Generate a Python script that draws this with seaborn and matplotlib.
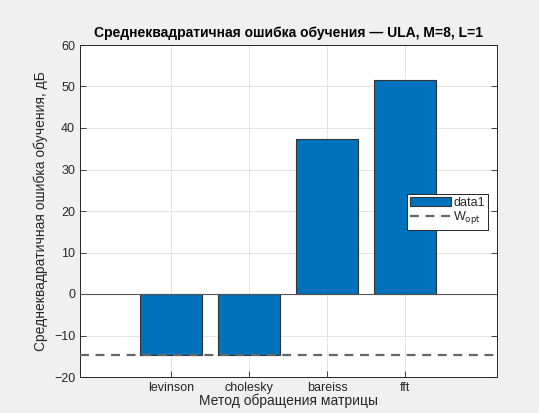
import matplotlib
matplotlib.use("Agg")
import matplotlib.pyplot as plt
import seaborn as sns
import pandas as pd

methods = ["levinson", "cholesky", "bareiss", "fft"]
mse_db = [-14.6, -14.6, 37.4, 51.5]
w_opt_db = -14.6

sns.set_style("whitegrid")
plt.rcParams["font.family"] = ["Liberation Sans", "DejaVu Sans"]

fig = plt.figure(figsize=(5.39, 4.13), dpi=100, facecolor="#f0f0f0")
ax = fig.add_axes([80 / 539, 1 - 377 / 413, 417 / 539, 332 / 413])
ax.set_facecolor("white")

df = pd.DataFrame({"method": methods, "mse": mse_db})
sns.barplot(data=df, x="method", y="mse", ax=ax, color="#0072BD", saturation=1,
            width=0.8, edgecolor="#333333", linewidth=0.8, label="data1", zorder=2)

ax.axhline(0, color="#555555", linewidth=0.8, zorder=3)
wline = ax.axhline(w_opt_db, color="#666666", linestyle=(0, (4, 3)), linewidth=1.6,
                   label=r"W$_{\mathrm{opt}}$", zorder=4)

ax.set_xlim(-1.17, 4.18)
ax.set_ylim(-20, 60)
ax.set_yticks(range(-20, 61, 10))
ax.grid(True, color="#e3e3e3", linewidth=0.7, zorder=0)
ax.set_axisbelow(True)
ax.tick_params(direction="in", length=4, colors="#262626", labelsize=9,
               top=False, right=True, left=True, bottom=True, width=0.6)
for s in ax.spines.values():
    s.set_color("#262626")
    s.set_linewidth(0.7)

ax.set_title("Среднеквадратичная ошибка обучения — ULA, M=8, L=1",
             fontsize=10, fontweight="bold", pad=6, color="black")
ax.set_xlabel("Метод обращения матрицы", fontsize=10, labelpad=0, color="#262626")
ax.set_ylabel("Среднеквадратичная ошибка обучения, дБ", fontsize=10, color="#262626")

bar_handle = ax.patches[0]
leg = ax.legend([bar_handle, wline], ["data1", r"W$_{\mathrm{opt}}$"],
                loc="upper left", bbox_to_anchor=(0.784, 0.552),
                fontsize=9, frameon=True, fancybox=False, borderpad=0.25,
                handlelength=3.3, handletextpad=0.15, labelspacing=0.05,
                borderaxespad=0, framealpha=1)
leg.get_frame().set_edgecolor("#262626")
leg.get_frame().set_linewidth(0.7)
leg.set_zorder(10)

fig.savefig("out.png", dpi=100, facecolor=fig.get_facecolor())
